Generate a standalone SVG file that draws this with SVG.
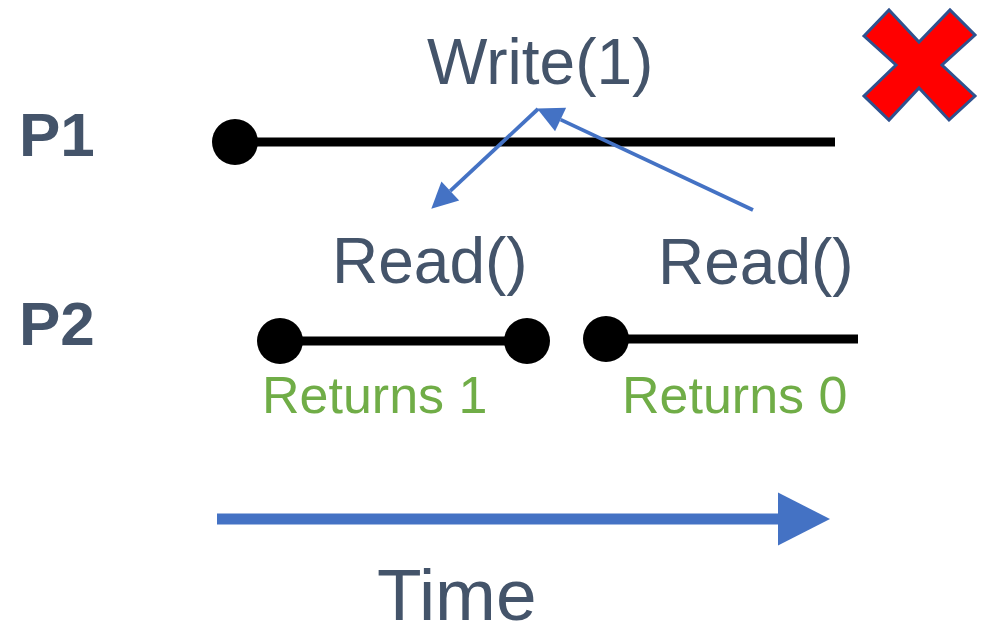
<svg xmlns="http://www.w3.org/2000/svg" width="987" height="629" viewBox="0 0 987 629">
  <style>
    .label { font-family: "Liberation Sans", Arial, sans-serif; fill: #44546A; }
    .proc { font-weight: bold; font-size: 62px; }
    .op { font-size: 64px; }
    .ret { font-family: "Liberation Sans", Arial, sans-serif; font-size: 52px; fill: #70AD47; }
    .timeline { stroke: #000000; stroke-width: 9; fill: none; }
    .dot { fill: #000000; }
    .link { stroke: #4472C4; stroke-width: 3.8; fill: none; }
    .time-axis { stroke: #4472C4; stroke-width: 11; fill: none; }
  </style>
  <defs>
    <marker id="head" markerUnits="userSpaceOnUse" markerWidth="26" markerHeight="26" refX="0" refY="13" orient="auto" overflow="visible">
      <path d="M0,0 L26,13 L0,26 Z" fill="#4472C4"/>
    </marker>
    <marker id="bigHead" markerUnits="userSpaceOnUse" markerWidth="52" markerHeight="53" refX="0" refY="26.5" orient="auto" overflow="visible">
      <path d="M0,0 L52,26.5 L0,53 Z" fill="#4472C4"/>
    </marker>
  </defs>

  <rect width="987" height="629" fill="#FFFFFF"/>

  <!-- process labels -->
  <g id="p1-label"><text class="label proc" x="19" y="156">P1</text></g>
  <g id="p2-label"><text class="label proc" x="19" y="345">P2</text></g>

  <!-- P1 history: write operation -->
  <g id="p1-write">
    <line class="timeline" x1="235" y1="142" x2="835" y2="142"/>
    <circle class="dot" cx="235" cy="142" r="23"/>
    <text class="label op" x="427" y="84">Write(1)</text>
  </g>

  <!-- P2 history: first read -->
  <g id="p2-read1">
    <line class="timeline" x1="280" y1="341" x2="527" y2="341"/>
    <circle class="dot" cx="280" cy="341" r="23"/>
    <circle class="dot" cx="527" cy="341" r="23"/>
    <text class="label op" x="332" y="283">Read()</text>
    <text class="ret" x="262" y="413">Returns 1</text>
  </g>

  <!-- P2 history: second read -->
  <g id="p2-read2">
    <line class="timeline" x1="606" y1="339" x2="858" y2="339"/>
    <circle class="dot" cx="606" cy="339" r="23"/>
    <text class="label op" x="658" y="284">Read()</text>
    <text class="ret" x="622" y="413">Returns 0</text>
  </g>

  <!-- invalid-history mark -->
  <g id="cross">
    <polygon points="864,36 889,10 919,42 950,10 975,35 942,65 975,96 949,120 919,88 889,120 864,96 896,65" fill="#FF0000" stroke="#2F528F" stroke-width="3" stroke-linejoin="miter"/>
  </g>

  <!-- time axis label -->
  <g id="time-label"><text class="label" x="377" y="620" font-size="73">Time</text></g>

  <!-- connectors -->
  <g id="connectors">
    <line class="link" x1="538" y1="109" x2="450.3" y2="190.9" marker-end="url(#head)"/>
    <line class="link" x1="753" y1="210" x2="560.6" y2="119.6" marker-end="url(#head)"/>
    <line class="time-axis" x1="217" y1="519" x2="778" y2="519" marker-end="url(#bigHead)"/>
  </g>
</svg>
